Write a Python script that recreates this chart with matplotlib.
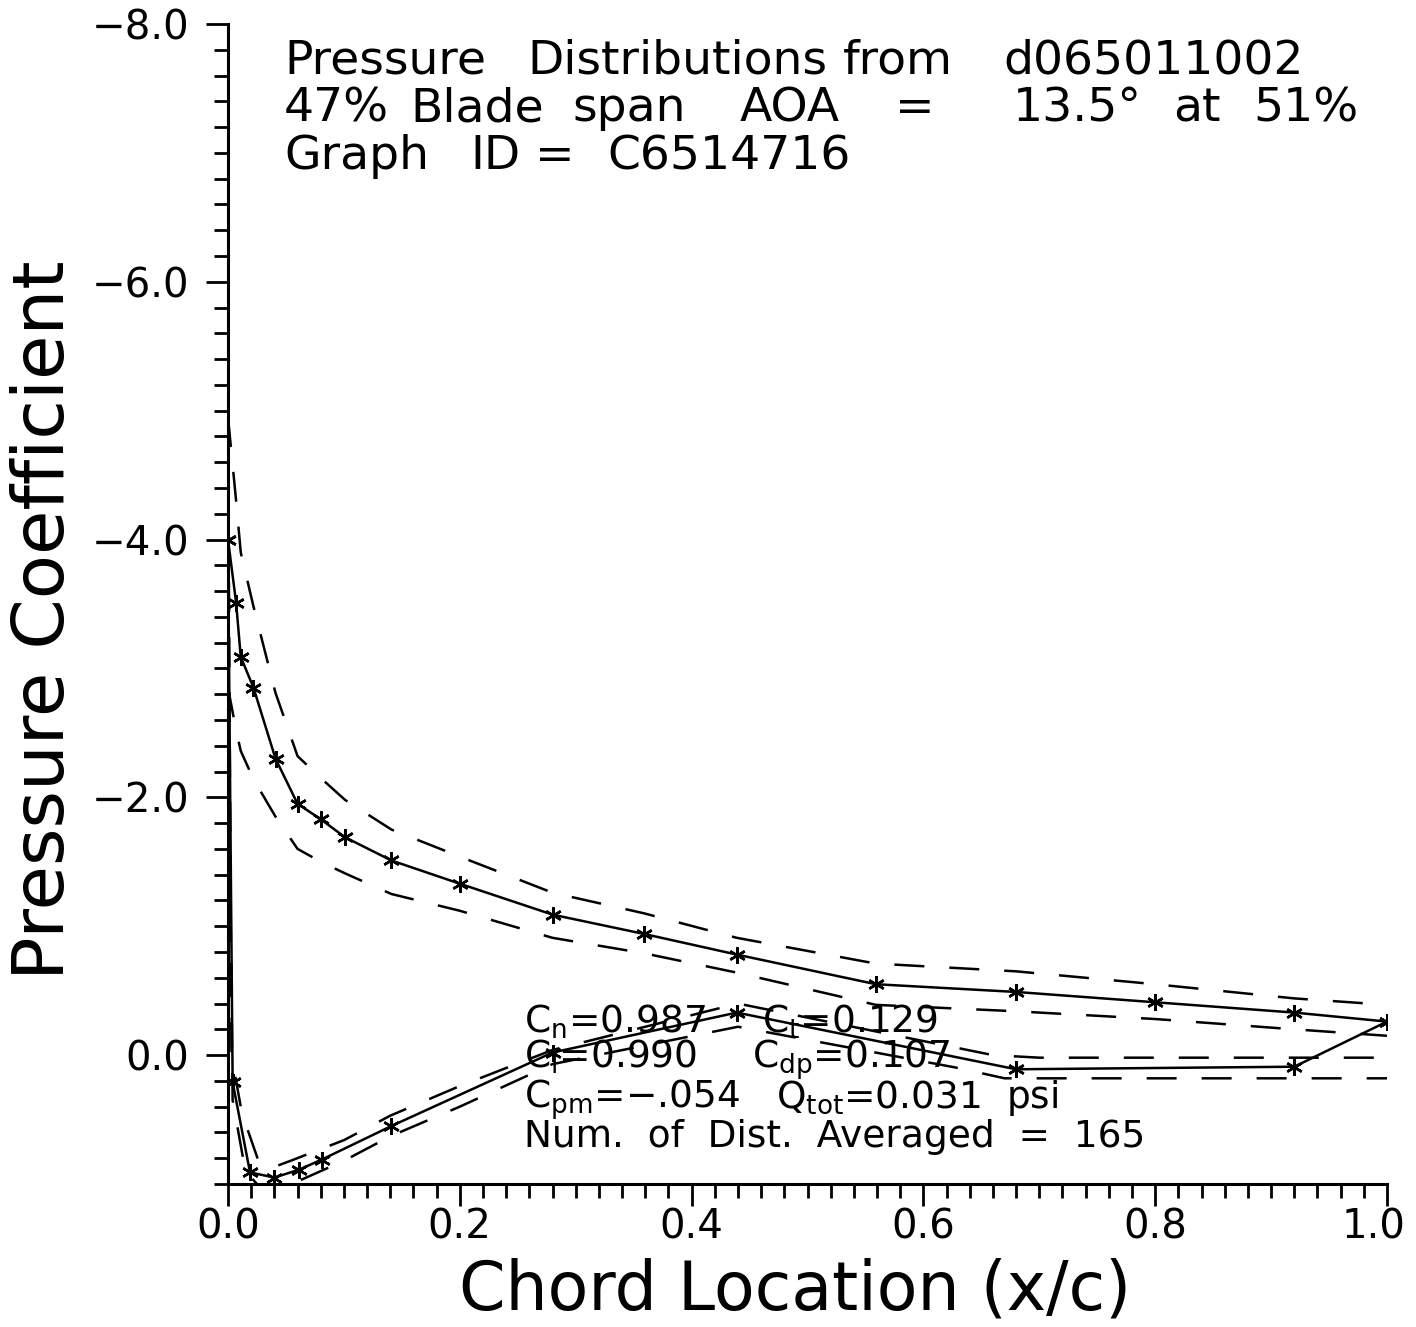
import matplotlib
matplotlib.use("Agg")
import matplotlib.pyplot as plt
from matplotlib.ticker import MultipleLocator, FixedLocator, FuncFormatter
from matplotlib.transforms import ScaledTranslation

# ---- data ----
# upper surface (suction side) mean Cp
x_upper = [0.0, 0.007, 0.011, 0.022, 0.041, 0.060, 0.080, 0.101, 0.141, 0.200,
           0.280, 0.359, 0.439, 0.559, 0.680, 0.800, 0.920, 1.0]
cp_upper = [-4.00, -3.51, -3.09, -2.85, -2.30, -1.95, -1.83, -1.69, -1.51, -1.33,
            -1.09, -0.94, -0.78, -0.55, -0.49, -0.41, -0.33, -0.26]
cp_upper_min = [-4.95, -4.30, -3.90, -3.48, -2.81, -2.32, -2.15, -1.98, -1.75, -1.54,
                -1.26, -1.10, -0.91, -0.71, -0.65, -0.55, -0.44, -0.39]
cp_upper_max = [-2.85, -2.52, -2.36, -2.14, -1.85, -1.60, -1.50, -1.41, -1.25, -1.12,
                -0.91, -0.79, -0.64, -0.39, -0.34, -0.28, -0.20, -0.15]

# lower surface (pressure side) mean Cp
x_lower = [0.0, 0.004, 0.019, 0.040, 0.061, 0.081, 0.141, 0.280, 0.439, 0.680, 0.920, 1.0]
cp_lower = [-4.00, 0.21, 0.91, 0.95, 0.89, 0.81, 0.55, -0.02, -0.33, 0.11, 0.09, -0.26]

x_lower_min = [0.0, 0.003, 0.012, 0.027, 0.039, 0.054, 0.10, 0.14, 0.20, 0.28,
               0.44, 0.66, 0.70, 1.0]
cp_lower_min = [-4.95, 0.00, 0.45, 0.84, 0.87, 0.82, 0.66, 0.47, 0.24, -0.04,
                -0.40, 0.00, 0.02, 0.02]
x_lower_max = [0.0, 0.004, 0.015, 0.03, 0.06, 0.10, 0.14, 0.20, 0.28, 0.44,
               0.63, 0.67, 1.0]
cp_lower_max = [-2.85, 0.35, 0.90, 1.05, 0.98, 0.82, 0.63, 0.40, 0.07, -0.22,
                0.10, 0.18, 0.18]

x_ticks = [0.0, 0.2, 0.4, 0.6, 0.8, 1.0]
y_ticks = [-8.0, -6.0, -4.0, -2.0, 0.0]

title_lines = [
    [("Pressure", 284), ("Distributions", 527), ("from", 843), ("d065011002", 1003)],
    [("47%", 284), ("Blade", 410), ("span", 572), ("AOA", 740), ("=", 895),
     ("13.5°", 1013), ("at", 1173), ("51%", 1253)],
    [("Graph", 284), ("ID", 470), ("=", 535), ("C6514716", 607)],
]
title_baselines = [73, 121, 169]

stats_left = [r"$\mathregular{C_n}$=0.987", r"$\mathregular{C_l}$=0.990",
              r"$\mathregular{C_{pm}}$=" + "\u2212.054",
              "Num.  of  Dist.  Averaged  =  165"]
stats_right = [(r"$\mathregular{C_t}$=0.129", 762), (r"$\mathregular{C_{dp}}$=0.107", 752),
               (r"$\mathregular{Q_{tot}}$=0.031  psi", 776)]
stats_baselines = [1033, 1068, 1108, 1147]

# ---- figure ----
W, H = 1416, 1327
fig = plt.figure(figsize=(W / 100, H / 100), dpi=100)
L, R, T, B = 228, 1387, 24, 1184
ax = fig.add_axes([L / W, 1 - B / H, (R - L) / W, (B - T) / H])

lw = 1.8
dash = (0, (12, 10))
ax.plot(x_upper, cp_upper, color="black", lw=lw, marker=(6, 2, 0), ms=12, mew=1.8)
ax.plot(x_upper, cp_upper_min, color="black", lw=lw, ls=dash)
ax.plot(x_upper, cp_upper_max, color="black", lw=lw, ls=dash)
ax.plot(x_lower, cp_lower, color="black", lw=lw, marker=(6, 2, 0), ms=12, mew=1.8)
ax.plot(x_lower_min, cp_lower_min, color="black", lw=lw, ls=dash)
ax.plot(x_lower_max, cp_lower_max, color="black", lw=lw, ls=dash)

ax.set_xlim(0.0, 1.0)
ax.set_ylim(1.0, -8.0)
for s in ["top", "right"]:
    ax.spines[s].set_visible(False)
for s in ["left", "bottom"]:
    ax.spines[s].set_linewidth(2.2)

ax.xaxis.set_major_locator(FixedLocator(x_ticks))
ax.xaxis.set_minor_locator(MultipleLocator(0.02))
ax.yaxis.set_major_locator(FixedLocator(y_ticks))
ax.yaxis.set_minor_locator(MultipleLocator(0.2))
fmt = FuncFormatter(lambda v, p: ("%.1f" % v).replace("-", "\u2212"))
ax.xaxis.set_major_formatter(fmt)
ax.yaxis.set_major_formatter(fmt)
ax.tick_params(axis="both", which="major", direction="out", length=16, width=2,
               labelsize=29, colors="black")
ax.tick_params(axis="both", which="minor", direction="out", length=10, width=2)
ax.tick_params(axis="y", which="major", pad=12)
ax.tick_params(axis="x", which="major", pad=1)

fig.canvas.draw()
last = ax.xaxis.get_major_ticks()[-1].label1
last.set_transform(last.get_transform() + ScaledTranslation(-0.14, 0, fig.dpi_scale_trans))

fig.text(795 / W, 1 - 1290 / H, "Chord Location (x/c)", fontsize=48,
         ha="center", va="center")
fig.text(45 / W, 1 - 620 / H, "Pressure Coefficient", fontsize=52,
         ha="center", va="center", rotation=90)

for words, yb in zip(title_lines, title_baselines):
    for w, xp in words:
        fig.text(xp / W, 1 - yb / H, w, fontsize=34, ha="left", va="baseline")

for i, s in enumerate(stats_left):
    fig.text(524 / W, 1 - stats_baselines[i] / H, s, fontsize=27,
             ha="left", va="baseline")
for i, (s, xp) in enumerate(stats_right):
    fig.text(xp / W, 1 - stats_baselines[i] / H, s, fontsize=27,
             ha="left", va="baseline")

fig.savefig("out.png", dpi=100, facecolor="white")
